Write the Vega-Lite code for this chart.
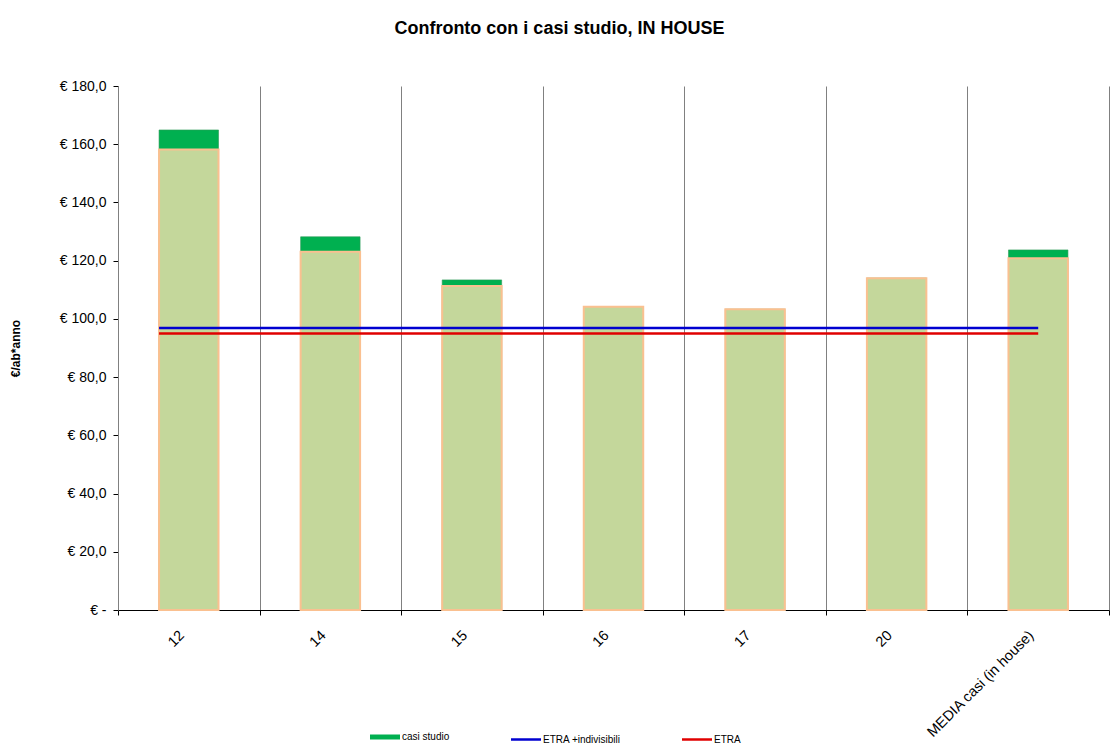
{
  "$schema": "https://vega.github.io/schema/vega-lite/v6.json",
  "width": 991,
  "height": 524,
  "padding": {"left": 9, "top": 20, "right": 2, "bottom": 4},
  "background": "white",
  "config": {"font": "Liberation Sans", "view": {"stroke": null}},
  "title": {"text": "Confronto con i casi studio, IN HOUSE", "fontSize": 18, "fontWeight": "bold", "font": "Liberation Sans", "anchor": "middle", "frame": "bounds", "offset": 41, "color": "black"},
  "datasets": {
    "bars": [
      {"caso": "12", "totale": 164.9, "base": 158.2},
      {"caso": "14", "totale": 128.2, "base": 123.1},
      {"caso": "15", "totale": 113.4, "base": 111.3},
      {"caso": "16", "totale": 104.2, "base": 104.2},
      {"caso": "17", "totale": 103.3, "base": 103.3},
      {"caso": "20", "totale": 114.0, "base": 114.0},
      {"caso": "MEDIA casi (in house)", "totale": 123.7, "base": 120.8}
    ],
    "lines": [
      {"serie": "ETRA +indivisibili", "valore": 96.9, "caso": "12", "caso2": "MEDIA casi (in house)"},
      {"serie": "ETRA", "valore": 95.0, "caso": "12", "caso2": "MEDIA casi (in house)"}
    ]
  },
  "layer": [
    {
      "data": {"name": "bars"},
      "mark": {"type": "bar", "width": {"band": 0.42}, "stroke": "#2e9a58", "strokeWidth": 0.6},
      "encoding": {
        "x": {
          "field": "caso", "type": "nominal", "sort": null,
          "scale": {"paddingInner": 0, "paddingOuter": 0},
          "axis": {
            "title": null, "labelAngle": -45, "labelFontSize": 14.5, "labelColor": "black",
            "labelAlign": "right", "labelBaseline": "top", "labelPadding": 13, "labelOffset": -12,
            "tickBand": "extent", "grid": true, "gridColor": "#808080", "gridWidth": 1,
            "domainColor": "black", "tickColor": "black", "tickSize": 5
          }
        },
        "y": {
          "field": "totale", "type": "quantitative",
          "scale": {"domain": [0, 180], "nice": false},
          "axis": {
            "title": "€/ab*anno", "titleFontSize": 12, "titleFontWeight": "bold", "titleColor": "black",
            "titlePadding": 37,
            "labelFontSize": 14, "labelPadding": 7, "labelColor": "black", "tickColor": "black", "tickSize": 5,
            "domainColor": "#808080", "grid": false,
            "values": [0, 20, 40, 60, 80, 100, 120, 140, 160, 180],
            "labelExpr": "datum.value == 0 ? '€ -\u00a0\u00a0\u00a0\u00a0\u00a0' : '€ ' + replace(format(datum.value, '.1f'), '.', ',')"
          }
        },
        "color": {
          "datum": "casi studio", "type": "nominal",
          "scale": {"domain": ["casi studio", "ETRA +indivisibili", "ETRA"], "range": ["#00B050", "#0000D0", "#E00000"]},
          "legend": {
            "title": null, "orient": "none", "legendX": 262, "legendY": 646, "direction": "horizontal", "columns": 3,
            "symbolType": "stroke", "symbolSize": 900, "symbolStrokeWidth": 2.5,
            "labelFontSize": 10, "labelColor": "black", "labelOffset": 12, "columnPadding": 56, "padding": 0,
            "encode": {
              "symbols": {
                "update": {
                  "stroke": {"scale": "color", "field": "value"},
                  "strokeWidth": {"signal": "datum.value == 'casi studio' ? 5 : 2.5"}
                }
              }
            }
          }
        }
      }
    },
    {
      "data": {"name": "bars"},
      "mark": {"type": "bar", "width": {"band": 0.42}, "fill": "#C4D79B", "stroke": "#FAC090", "strokeWidth": 2},
      "encoding": {
        "x": {"field": "caso", "type": "nominal", "sort": null},
        "y": {"field": "base", "type": "quantitative"}
      }
    },
    {
      "data": {"name": "lines"},
      "mark": {"type": "rule", "strokeWidth": 2.5},
      "encoding": {
        "x": {"field": "caso", "type": "nominal", "sort": null, "bandPosition": 0.29},
        "x2": {"field": "caso2", "bandPosition": 0.5},
        "y": {"field": "valore", "type": "quantitative"},
        "color": {
          "field": "serie", "type": "nominal",
          "legend": {
            "title": null, "orient": "none", "legendX": 262, "legendY": 646, "direction": "horizontal", "columns": 3,
            "symbolType": "stroke", "symbolSize": 900, "symbolStrokeWidth": 2.5,
            "labelFontSize": 10, "labelColor": "black", "labelOffset": 12, "columnPadding": 56, "padding": 0,
            "encode": {
              "symbols": {
                "update": {
                  "stroke": {"scale": "color", "field": "value"},
                  "strokeWidth": {"signal": "datum.value == 'casi studio' ? 5 : 2.5"}
                }
              }
            }
          }
        }
      }
    }
  ]
}
